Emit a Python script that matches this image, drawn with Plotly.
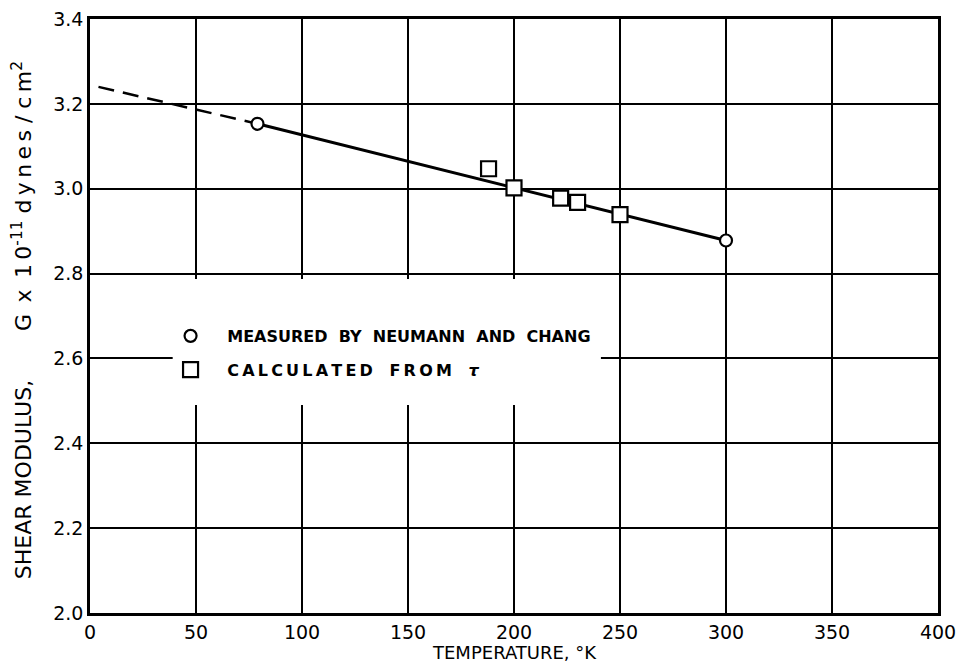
import plotly.graph_objects as go

# Measured by Neumann and Chang (circles)
measured_T = [79, 300]
measured_G = [3.153, 2.878]

# Calculated from tau (squares)
calc_T = [188, 200, 222, 230, 250]
calc_G = [3.047, 3.002, 2.978, 2.968, 2.939]

# Fitted line (solid) and extrapolation (dashed)
fit_T = [79, 300]
fit_G = [3.153, 2.878]
extrap_T = [4, 79]
extrap_G = [3.240, 3.153]

x_ticks = [0, 50, 100, 150, 200, 250, 300, 350, 400]
y_ticks = [2.0, 2.2, 2.4, 2.6, 2.8, 3.0, 3.2, 3.4]

FONT = "DejaVu Sans"
SP = "\u2009"

fig = go.Figure()

fig.add_trace(go.Scatter(x=extrap_T, y=extrap_G, mode="lines",
                         line=dict(color="black", width=2.5, dash="16px,9px"),
                         showlegend=False, hoverinfo="skip"))
fig.add_trace(go.Scatter(x=fit_T, y=fit_G, mode="lines",
                         line=dict(color="black", width=3),
                         showlegend=False, hoverinfo="skip"))
fig.add_trace(go.Scatter(x=measured_T, y=measured_G, mode="markers",
                         name="   MEASURED  BY  NEUMANN  AND  CHANG",
                         legendgroup="a",
                         marker=dict(symbol="circle", size=12, color="white",
                                     line=dict(color="black", width=2.2))))
fig.add_trace(go.Scatter(x=calc_T, y=calc_G, mode="markers",
                         name="   " + SP.join("CALCULATED") + "   " + SP.join("FROM") + "   <i>τ</i>",
                         legendgroup="b",
                         marker=dict(symbol="square", size=15, color="white",
                                     line=dict(color="black", width=2.2))))

# white box behind legend (covers grid)
fig.add_shape(type="rect", xref="x", yref="y", x0=39, x1=241, y0=2.49, y1=2.787,
              fillcolor="white", line=dict(width=0), layer="above")

y_title = ("SHEAR MODULUS,       G" + SP + " x " + SP + SP.join("10") + "<sup>-11</sup> "
           + SP.join("dynes") + " / " + SP.join("cm") + "<sup>2</sup>")

fig.update_layout(
    width=951, height=659,
    margin=dict(l=82, r=21, t=11, b=54),
    paper_bgcolor="white", plot_bgcolor="white",
    font=dict(family=FONT, color="black"),
    legend=dict(x=0.095, y=0.495, xanchor="left", yanchor="top",
                bgcolor="rgba(0,0,0,0)", traceorder="grouped",
                tracegroupgap=10,
                font=dict(family=FONT, size=16, color="black", weight="bold")),
    showlegend=True,
    annotations=[
        dict(text="TEMPERATURE, °K", xref="paper", yref="paper", x=0.5, y=0,
             xanchor="center", yanchor="middle", yshift=-39, showarrow=False,
             font=dict(family=FONT, size=18)),
        dict(text=y_title, xref="paper", yref="paper", x=0, y=0.493,
             xanchor="center", yanchor="middle", xshift=-68, textangle=-90,
             showarrow=False, font=dict(family=FONT, size=22)),
    ],
)

fig.update_xaxes(range=[0, 400], tickvals=x_ticks,
                 ticktext=[str(v) for v in x_ticks],
                 showgrid=True, gridcolor="black", gridwidth=1.5,
                 showline=True, linecolor="black", linewidth=2.5, mirror=True,
                 ticks="", zeroline=False, automargin=False,
                 ticklabeloverflow="allow",
                 tickfont=dict(family=FONT, size=19))
fig.update_yaxes(range=[2.0, 3.4], tickvals=y_ticks,
                 ticktext=[f"{v:.1f}" for v in y_ticks],
                 showgrid=True, gridcolor="black", gridwidth=1.5,
                 showline=True, linecolor="black", linewidth=2.5, mirror=True,
                 ticks="", zeroline=False, automargin=False,
                 ticklabeloverflow="allow",
                 tickfont=dict(family=FONT, size=19))

fig.write_html("out.html")
